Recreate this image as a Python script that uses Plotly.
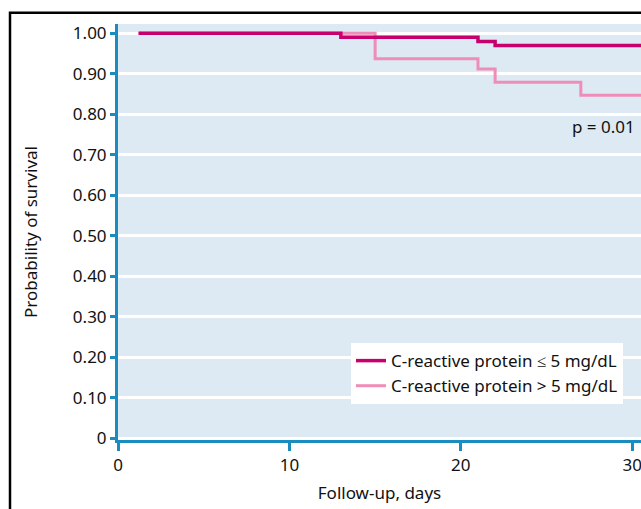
import plotly.graph_objects as go

# Data
low_x = [1.2, 13, 21, 22, 30.6]
low_y = [1.00, 0.99, 0.98, 0.97, 0.97]
high_x = [1.2, 15, 21, 22, 27, 30.6]
high_y = [1.00, 0.937, 0.912, 0.879, 0.847, 0.847]
y_ticks = [0, 0.1, 0.2, 0.3, 0.4, 0.5, 0.6, 0.7, 0.8, 0.9, 1.0]
y_labels = ["0", "0.10", "0.20", "0.30", "0.40", "0.50", "0.60", "0.70", "0.80", "0.90", "1.00"]
x_ticks = [0, 10, 20, 30]

DARK = "#c8006e"
PINK = "#f08cb8"
AXIS = "#1a8cc0"
FONT = "Noto Sans"
TXT = "#111111"

fig = go.Figure()
fig.add_trace(go.Scatter(x=high_x, y=high_y, mode="lines", line=dict(color=PINK, width=3, shape="hv"),
                         name="C-reactive protein > 5 mg/dL"))
fig.add_trace(go.Scatter(x=low_x, y=low_y, mode="lines", line=dict(color=DARK, width=3.5, shape="hv"),
                         name="C-reactive protein ≤ 5 mg/dL"))

fig.update_layout(
    width=641, height=509,
    margin=dict(l=118, r=0, t=24, b=69),
    paper_bgcolor="white",
    plot_bgcolor="#ddeaf3",
    font=dict(family=FONT, size=17, color=TXT),
    showlegend=True,
    legend=dict(x=0.4455, y=0.233, xanchor="left", yanchor="top", bgcolor="white",
                traceorder="reversed", font=dict(size=17, family=FONT, color=TXT), borderwidth=0,
                tracegroupgap=0, itemwidth=30),
    annotations=[dict(x=28.3, y=0.769, xref="x", yref="y", text="p = 0.01", showarrow=False,
                      font=dict(size=17, family=FONT, color=TXT), xanchor="center", yanchor="middle")],
    shapes=[dict(type="rect", xref="paper", yref="paper", x0=-0.2065, y0=-0.3, x1=1.2, y1=1.027,
                 line=dict(color="black", width=2.5), fillcolor="rgba(0,0,0,0)", layer="above")],
)
fig.update_xaxes(range=[0, 30.51], tickvals=x_ticks, showgrid=False, zeroline=False,
                 showline=True, linecolor=AXIS, linewidth=3, ticks="outside", tickcolor=AXIS,
                 ticklen=8, tickwidth=3, tickfont=dict(size=17, color=TXT), ticklabeloverflow="allow",
                 title=dict(text="Follow-up, days", font=dict(size=17, color=TXT), standoff=12))
fig.update_yaxes(range=[-0.004, 1.023], tickvals=y_ticks, ticktext=y_labels, showgrid=True,
                 gridcolor="white", gridwidth=3, zeroline=False,
                 showline=True, linecolor=AXIS, linewidth=3, ticks="outside", tickcolor=AXIS,
                 ticklen=5, tickwidth=3, tickfont=dict(size=17, color=TXT),
                 title=dict(text="Probability of survival", font=dict(size=17, color=TXT), standoff=31))

fig.write_html("out.html", config={"displayModeBar": False},
               post_script="document.body.style.margin='0';document.body.style.overflow='hidden';")
